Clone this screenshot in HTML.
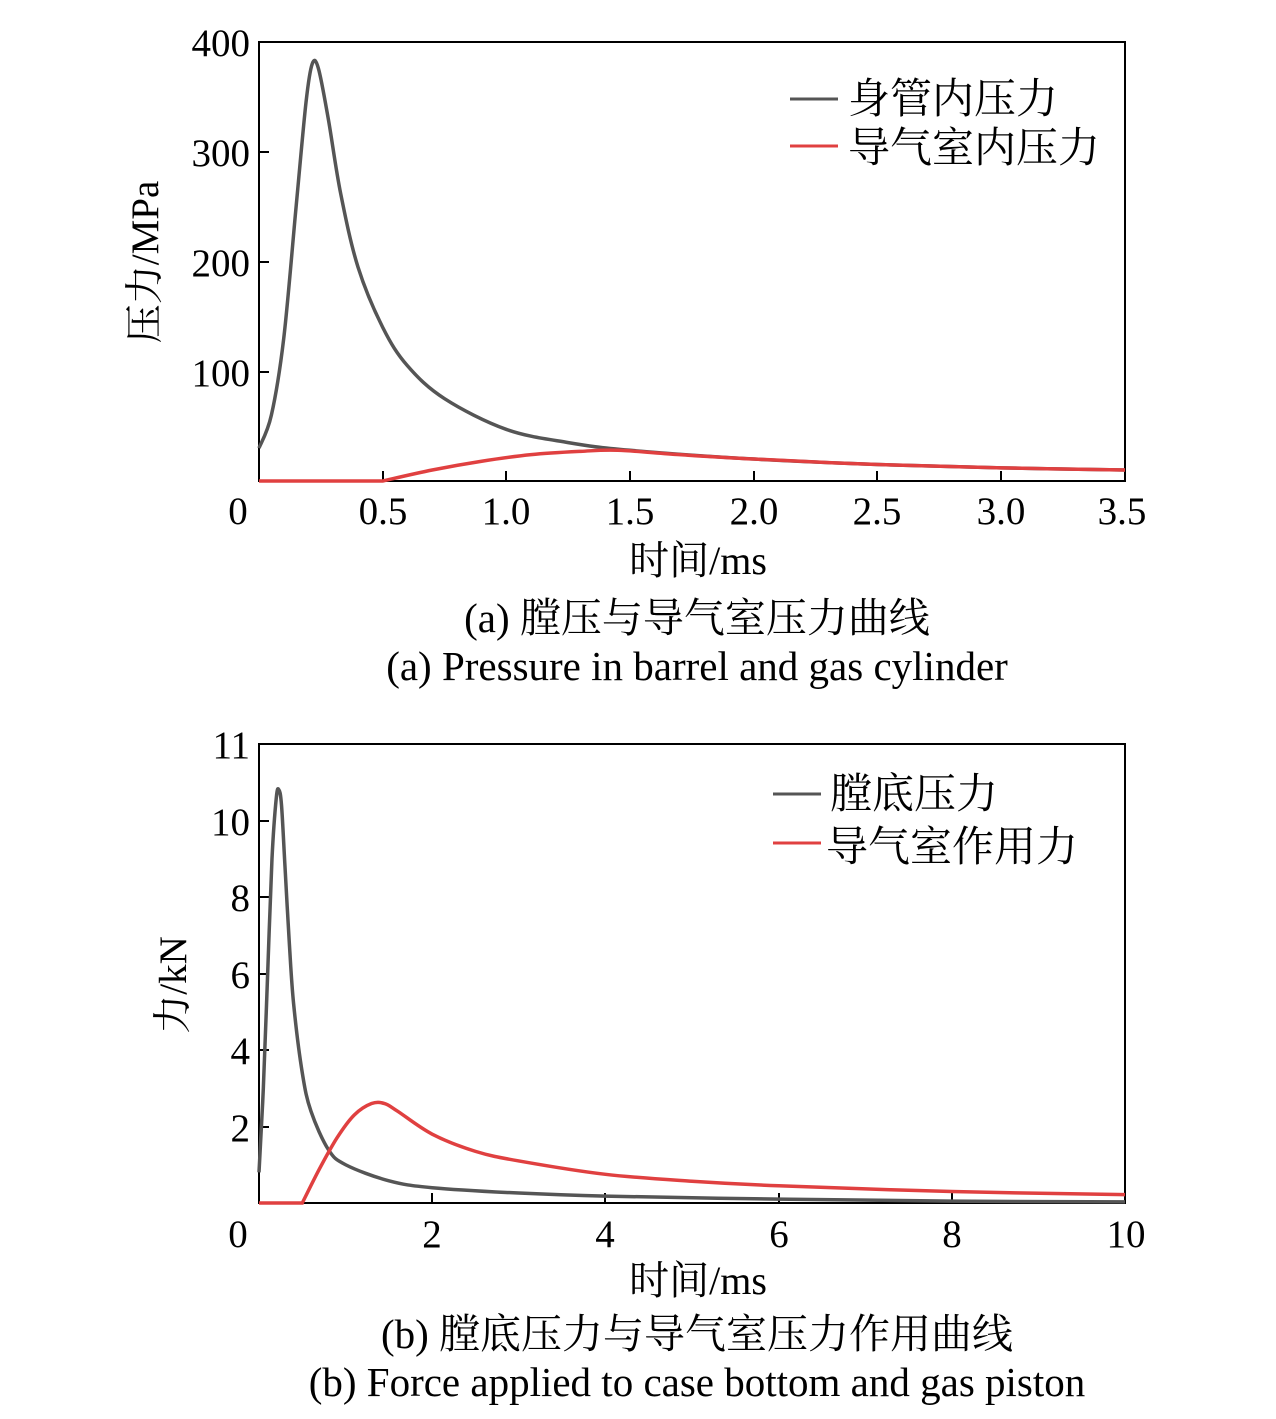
<!DOCTYPE html>
<html><head><meta charset="utf-8"><style>
body{margin:0;background:#fff}
svg text{font-family:"Liberation Serif","Noto Serif CJK SC",serif;fill:#000}
</style></head><body>
<svg id="s" width="1276" height="1414" viewBox="0 0 1276 1414" xmlns="http://www.w3.org/2000/svg">
<g font-size="39">
<!-- plot a -->
<rect x="259" y="42" width="866" height="439" fill="none" stroke="#000" stroke-width="2"/>
<g stroke="#000" stroke-width="2">
<line x1="259" y1="372" x2="269" y2="372"/><line x1="259" y1="262" x2="269" y2="262"/><line x1="259" y1="152" x2="269" y2="152"/>
<line x1="383" y1="481" x2="383" y2="471"/><line x1="506" y1="481" x2="506" y2="471"/><line x1="630" y1="481" x2="630" y2="471"/><line x1="754" y1="481" x2="754" y2="471"/><line x1="877" y1="481" x2="877" y2="471"/><line x1="1001" y1="481" x2="1001" y2="471"/>
</g>
<g text-anchor="end"><text x="250" y="56">400</text><text x="250" y="166">300</text><text x="250" y="276">200</text><text x="250" y="386">100</text></g>
<g text-anchor="middle"><text x="238" y="524">0</text><text x="383" y="524">0.5</text><text x="506" y="524">1.0</text><text x="630" y="524">1.5</text><text x="754" y="524">2.0</text><text x="877" y="524">2.5</text><text x="1001" y="524">3.0</text><text x="1122" y="524">3.5</text>
<text x="698" y="574" font-size="40">时间/ms</text>
<text x="697" y="632" font-size="41">(a) 膛压与导气室压力曲线</text>
<text x="697" y="680" font-size="41">(a) Pressure in barrel and gas cylinder</text>
</g>
<text transform="translate(158,262) rotate(-90)" text-anchor="middle" font-size="39">压力/MPa</text>
<line x1="790" y1="99" x2="838" y2="99" stroke="#555" stroke-width="3"/>
<line x1="790" y1="146" x2="838" y2="146" stroke="#e04040" stroke-width="3"/>
<text x="848" y="113" font-size="42">身管内压力</text>
<text x="848" y="162" font-size="42">导气室内压力</text>
<!-- plot b -->
<rect x="259" y="744" width="866" height="459" fill="none" stroke="#000" stroke-width="2"/>
<g stroke="#000" stroke-width="2">
<line x1="259" y1="1127" x2="269" y2="1127"/><line x1="259" y1="1050" x2="269" y2="1050"/><line x1="259" y1="974" x2="269" y2="974"/><line x1="259" y1="897" x2="269" y2="897"/><line x1="259" y1="821" x2="269" y2="821"/>
<line x1="432" y1="1203" x2="432" y2="1193"/><line x1="605" y1="1203" x2="605" y2="1193"/><line x1="779" y1="1203" x2="779" y2="1193"/><line x1="952" y1="1203" x2="952" y2="1193"/>
</g>
<g text-anchor="end"><text x="250" y="758">11</text><text x="250" y="835">10</text><text x="250" y="911">8</text><text x="250" y="988">6</text><text x="250" y="1064">4</text><text x="250" y="1141">2</text></g>
<g text-anchor="middle"><text x="238" y="1247">0</text><text x="432" y="1247">2</text><text x="605" y="1247">4</text><text x="779" y="1247">6</text><text x="952" y="1247">8</text><text x="1126" y="1247">10</text>
<text x="698" y="1294" font-size="40">时间/ms</text>
<text x="697" y="1348" font-size="41">(b) 膛底压力与导气室压力作用曲线</text>
<text x="697" y="1396" font-size="41">(b) Force applied to case bottom and gas piston</text>
</g>
<text transform="translate(186,985) rotate(-90)" text-anchor="middle" font-size="39">力/kN</text>
<line x1="773" y1="794" x2="821" y2="794" stroke="#555" stroke-width="3"/>
<line x1="773" y1="843" x2="821" y2="843" stroke="#e04040" stroke-width="3"/>
<text x="830" y="808" font-size="42">膛底压力</text>
<text x="826" y="861" font-size="42">导气室作用力</text>
</g>
<path id="a1" fill="none" stroke="#555" stroke-width="3.5"/>
<path id="a2" fill="none" stroke="#e04040" stroke-width="3.5"/>
<path id="b1" fill="none" stroke="#555" stroke-width="3.5"/>
<path id="b2" fill="none" stroke="#e04040" stroke-width="3.5"/>
</svg>
<script>
function cr(pts){var d="M"+pts[0][0]+","+pts[0][1];for(var i=0;i<pts.length-1;i++){var p0=pts[i-1]||pts[i],p1=pts[i],p2=pts[i+1],p3=pts[i+2]||p2;d+=" C"+(p1[0]+(p2[0]-p0[0])/6)+","+(p1[1]+(p2[1]-p0[1])/6)+" "+(p2[0]-(p3[0]-p1[0])/6)+","+(p2[1]-(p3[1]-p1[1])/6)+" "+p2[0]+","+p2[1];}return d;}
function ma(a){return a.map(function(p){return[259+p[0]*247.43,481-p[1]*1.0975]});}
function mb(a){return a.map(function(p){return[259+p[0]*86.6,1203-p[1]*38.25]});}
var tail=[[2.0,20],[2.5,15],[3.0,12],[3.5,10]];
document.getElementById("a1").setAttribute("d",cr(ma([[0,30],[0.05,60],[0.1,130],[0.15,250],[0.19,345],[0.215,380],[0.24,376],[0.28,330],[0.33,262],[0.4,195],[0.5,140],[0.6,105],[0.75,75],[1.0,47],[1.25,35],[1.5,28]].concat(tail))));
document.getElementById("a2").setAttribute("d","M259,481 L383,481 "+cr(ma([[0.5,0],[0.7,10],[0.9,18],[1.1,24],[1.3,27],[1.45,28],[1.7,24]].concat(tail))).replace(/^M/,"L"));
document.getElementById("b1").setAttribute("d",cr(mb([[0,0.8],[0.05,3],[0.1,6],[0.15,9],[0.2,10.6],[0.23,10.8],[0.26,10.4],[0.3,8.8],[0.35,6.8],[0.4,5.2],[0.5,3.4],[0.6,2.4],[0.8,1.4],[1.0,1.0],[1.5,0.58],[2,0.4],[3,0.26],[4,0.18],[6,0.1],[8,0.05],[10,0.03]])));
document.getElementById("b2").setAttribute("d","M259,1203 L302,1203 "+cr(mb([[0.5,0],[0.7,0.9],[0.9,1.7],[1.1,2.3],[1.3,2.6],[1.45,2.6],[1.6,2.4],[2,1.8],[2.5,1.35],[3,1.1],[4,0.75],[5,0.57],[6,0.45],[8,0.3],[10,0.22]])).replace(/^M/,"L"));
</script>
</body></html>
